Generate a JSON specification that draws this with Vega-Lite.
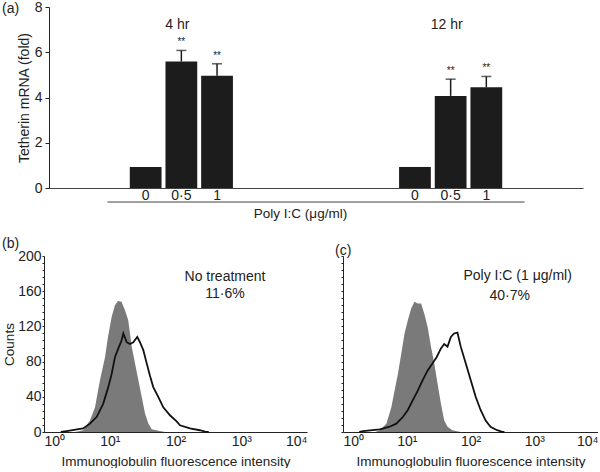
{
  "$schema": "https://vega.github.io/schema/vega-lite/v6.json",
  "padding": {"left": 2, "top": 0, "right": 0, "bottom": 0},
  "background": "white",
  "config": {
    "font": "Liberation Sans",
    "view": {"stroke": null},
    "axis": {"grid": false, "labelFont": "Liberation Sans", "titleFont": "Liberation Sans", "labelFontSize": 14, "titleFontSize": 13.5, "titleFontWeight": "normal", "domainColor": "#222222", "tickColor": "#222222", "labelColor": "#222222", "titleColor": "#222222"},
    "title": {"font": "Liberation Sans", "fontSize": 14, "fontWeight": "normal", "color": "#222222"},
    "text": {"font": "Liberation Sans", "color": "#222222"}
  },
  "datasets": {
    "tetherin": [
      {"time": "4 hr", "dose": "0", "fold": 0.93, "upper": 0.93, "sig": ""},
      {"time": "4 hr", "dose": "0·5", "fold": 5.59, "upper": 6.08, "sig": "**"},
      {"time": "4 hr", "dose": "1", "fold": 4.96, "upper": 5.49, "sig": "**"},
      {"time": "12 hr", "dose": "0", "fold": 0.93, "upper": 0.93, "sig": ""},
      {"time": "12 hr", "dose": "0·5", "fold": 4.07, "upper": 4.81, "sig": "**"},
      {"time": "12 hr", "dose": "1", "fold": 4.45, "upper": 4.93, "sig": "**"}
    ],
    "flow": [
      {"panel": "b", "series": "control", "intensity": 3.0, "count": 0},
      {"panel": "b", "series": "control", "intensity": 3.92, "count": 2},
      {"panel": "b", "series": "control", "intensity": 5.01, "count": 13},
      {"panel": "b", "series": "control", "intensity": 5.97, "count": 28},
      {"panel": "b", "series": "control", "intensity": 7.11, "count": 59},
      {"panel": "b", "series": "control", "intensity": 8.47, "count": 85},
      {"panel": "b", "series": "control", "intensity": 9.4, "count": 108},
      {"panel": "b", "series": "control", "intensity": 10.7, "count": 131},
      {"panel": "b", "series": "control", "intensity": 12.0, "count": 144},
      {"panel": "b", "series": "control", "intensity": 13.3, "count": 149},
      {"panel": "b", "series": "control", "intensity": 15.1, "count": 148},
      {"panel": "b", "series": "control", "intensity": 17.1, "count": 138},
      {"panel": "b", "series": "control", "intensity": 19.1, "count": 127},
      {"panel": "b", "series": "control", "intensity": 21.6, "count": 97},
      {"panel": "b", "series": "control", "intensity": 24.2, "count": 78},
      {"panel": "b", "series": "control", "intensity": 27.2, "count": 59},
      {"panel": "b", "series": "control", "intensity": 30.6, "count": 40},
      {"panel": "b", "series": "control", "intensity": 34.4, "count": 21},
      {"panel": "b", "series": "control", "intensity": 38.5, "count": 10},
      {"panel": "b", "series": "control", "intensity": 43.4, "count": 3},
      {"panel": "b", "series": "control", "intensity": 57.5, "count": 1},
      {"panel": "b", "series": "control", "intensity": 70, "count": 0},
      {"panel": "b", "series": "sample", "intensity": 1.8, "count": 0},
      {"panel": "b", "series": "sample", "intensity": 2.21, "count": 1},
      {"panel": "b", "series": "sample", "intensity": 3.92, "count": 4},
      {"panel": "b", "series": "sample", "intensity": 5.01, "count": 9.5},
      {"panel": "b", "series": "sample", "intensity": 6.31, "count": 17},
      {"panel": "b", "series": "sample", "intensity": 7.94, "count": 32},
      {"panel": "b", "series": "sample", "intensity": 9.51, "count": 51},
      {"panel": "b", "series": "sample", "intensity": 10.7, "count": 66},
      {"panel": "b", "series": "sample", "intensity": 12.0, "count": 85},
      {"panel": "b", "series": "sample", "intensity": 13.5, "count": 95},
      {"panel": "b", "series": "sample", "intensity": 15.1, "count": 104},
      {"panel": "b", "series": "sample", "intensity": 16.1, "count": 112},
      {"panel": "b", "series": "sample", "intensity": 18.1, "count": 102},
      {"panel": "b", "series": "sample", "intensity": 20.3, "count": 100},
      {"panel": "b", "series": "sample", "intensity": 22.8, "count": 102},
      {"panel": "b", "series": "sample", "intensity": 26.2, "count": 108},
      {"panel": "b", "series": "sample", "intensity": 28.8, "count": 102},
      {"panel": "b", "series": "sample", "intensity": 32.4, "count": 93},
      {"panel": "b", "series": "sample", "intensity": 36.5, "count": 78},
      {"panel": "b", "series": "sample", "intensity": 40.9, "count": 64},
      {"panel": "b", "series": "sample", "intensity": 45.9, "count": 51},
      {"panel": "b", "series": "sample", "intensity": 54.7, "count": 40},
      {"panel": "b", "series": "sample", "intensity": 65.2, "count": 28},
      {"panel": "b", "series": "sample", "intensity": 82.4, "count": 19},
      {"panel": "b", "series": "sample", "intensity": 104, "count": 12},
      {"panel": "b", "series": "sample", "intensity": 117, "count": 7.6},
      {"panel": "b", "series": "sample", "intensity": 166, "count": 4},
      {"panel": "b", "series": "sample", "intensity": 234, "count": 2},
      {"panel": "b", "series": "sample", "intensity": 282, "count": 0.5},
      {"panel": "b", "series": "sample", "intensity": 320, "count": 0},
      {"panel": "c", "series": "control", "intensity": 3.2, "count": 0},
      {"panel": "c", "series": "control", "intensity": 3.77, "count": 2},
      {"panel": "c", "series": "control", "intensity": 4.79, "count": 9.5},
      {"panel": "c", "series": "control", "intensity": 5.73, "count": 28},
      {"panel": "c", "series": "control", "intensity": 6.44, "count": 47},
      {"panel": "c", "series": "control", "intensity": 7.26, "count": 66},
      {"panel": "c", "series": "control", "intensity": 8.2, "count": 89},
      {"panel": "c", "series": "control", "intensity": 9.23, "count": 112},
      {"panel": "c", "series": "control", "intensity": 10.4, "count": 127},
      {"panel": "c", "series": "control", "intensity": 11.7, "count": 140},
      {"panel": "c", "series": "control", "intensity": 13.2, "count": 148},
      {"panel": "c", "series": "control", "intensity": 14.9, "count": 146},
      {"panel": "c", "series": "control", "intensity": 16.8, "count": 146},
      {"panel": "c", "series": "control", "intensity": 18.9, "count": 134},
      {"panel": "c", "series": "control", "intensity": 21.3, "count": 119},
      {"panel": "c", "series": "control", "intensity": 24.0, "count": 97},
      {"panel": "c", "series": "control", "intensity": 27.0, "count": 78},
      {"panel": "c", "series": "control", "intensity": 30.4, "count": 55},
      {"panel": "c", "series": "control", "intensity": 34.4, "count": 32},
      {"panel": "c", "series": "control", "intensity": 38.7, "count": 13},
      {"panel": "c", "series": "control", "intensity": 43.6, "count": 6},
      {"panel": "c", "series": "control", "intensity": 52.1, "count": 2},
      {"panel": "c", "series": "control", "intensity": 70, "count": 0},
      {"panel": "c", "series": "sample", "intensity": 1.8, "count": 0},
      {"panel": "c", "series": "sample", "intensity": 2.07, "count": 1},
      {"panel": "c", "series": "sample", "intensity": 3.77, "count": 3},
      {"panel": "c", "series": "sample", "intensity": 5.4, "count": 6},
      {"panel": "c", "series": "sample", "intensity": 6.85, "count": 9.5},
      {"panel": "c", "series": "sample", "intensity": 8.69, "count": 17},
      {"panel": "c", "series": "sample", "intensity": 10.4, "count": 25},
      {"panel": "c", "series": "sample", "intensity": 12.4, "count": 36},
      {"panel": "c", "series": "sample", "intensity": 14.9, "count": 47},
      {"panel": "c", "series": "sample", "intensity": 17.8, "count": 59},
      {"panel": "c", "series": "sample", "intensity": 21.3, "count": 70},
      {"panel": "c", "series": "sample", "intensity": 25.4, "count": 78},
      {"panel": "c", "series": "sample", "intensity": 29.4, "count": 85},
      {"panel": "c", "series": "sample", "intensity": 34.4, "count": 95},
      {"panel": "c", "series": "sample", "intensity": 38.7, "count": 100},
      {"panel": "c", "series": "sample", "intensity": 43.6, "count": 97},
      {"panel": "c", "series": "sample", "intensity": 49.2, "count": 108},
      {"panel": "c", "series": "sample", "intensity": 55.3, "count": 112},
      {"panel": "c", "series": "sample", "intensity": 62.4, "count": 113},
      {"panel": "c", "series": "sample", "intensity": 70.3, "count": 97},
      {"panel": "c", "series": "sample", "intensity": 84.1, "count": 78},
      {"panel": "c", "series": "sample", "intensity": 100.7, "count": 59},
      {"panel": "c", "series": "sample", "intensity": 120.5, "count": 40},
      {"panel": "c", "series": "sample", "intensity": 144, "count": 25},
      {"panel": "c", "series": "sample", "intensity": 173, "count": 13},
      {"panel": "c", "series": "sample", "intensity": 206, "count": 6},
      {"panel": "c", "series": "sample", "intensity": 261, "count": 2},
      {"panel": "c", "series": "sample", "intensity": 309, "count": 0.5},
      {"panel": "c", "series": "sample", "intensity": 340, "count": 0}
    ]
  },
  "vconcat": [
    {
      "width": 539,
      "height": 181,
      "title": {"text": "(a)", "anchor": "start", "frame": "group", "dx": -42, "dy": 20},
      "layer": [
        {
          "data": {"name": "tetherin"},
          "encoding": {
            "x": {"field": "time", "type": "nominal", "sort": ["4 hr", "12 hr"],
                  "scale": {"range": [5, 539], "paddingInner": 0.617, "paddingOuter": 0.3},
                  "axis": {"labels": false, "ticks": false, "domain": true, "domainColor": "#444444", "title": "Poly I:C (μg/ml)", "titlePadding": 18, "titleX": 256}},
            "xOffset": {"field": "dose", "type": "nominal", "sort": ["0", "0·5", "1"], "scale": {"paddingInner": 0.11, "paddingOuter": 0}}
          },
          "layer": [
            {
              "mark": {"type": "bar", "color": "#1c1c1c"},
              "encoding": {
                "y": {"field": "fold", "type": "quantitative", "scale": {"domain": [0, 8], "nice": false},
                      "axis": {"values": [0, 2, 4, 6, 8], "offset": -5, "tickSize": 4, "labelPadding": 3, "title": "Tetherin mRNA (fold)", "titleFontSize": 14, "titlePadding": 3}}
              }
            },
            {
              "transform": [{"filter": "datum.sig != ''"}],
              "mark": {"type": "rule", "color": "#1c1c1c", "strokeWidth": 1.5},
              "encoding": {"y": {"field": "fold", "type": "quantitative"}, "y2": {"field": "upper"}}
            },
            {
              "transform": [{"filter": "datum.sig != ''"}],
              "mark": {"type": "tick", "color": "#1c1c1c", "thickness": 1.5, "size": 10, "orient": "horizontal"},
              "encoding": {"y": {"field": "upper", "type": "quantitative"}}
            },
            {
              "transform": [{"filter": "datum.sig != ''"}],
              "mark": {"type": "text", "fontSize": 10, "baseline": "bottom", "dy": -3, "color": "#222222"},
              "encoding": {"y": {"field": "upper", "type": "quantitative"}, "text": {"field": "sig"}}
            },
            {
              "mark": {"type": "text", "fontSize": 14, "baseline": "middle", "color": "#222222"},
              "encoding": {"y": {"datum": -0.36}, "text": {"field": "dose"}}
            },
            {
              "transform": [{"filter": "datum.dose == '0·5'"}],
              "mark": {"type": "text", "fontSize": 14, "baseline": "middle", "dx": -4, "color": "#222222"},
              "encoding": {"y": {"datum": 7.2}, "text": {"field": "time"}}
            }
          ]
        },
        {
          "data": {"values": [{}]},
          "mark": {"type": "rule", "color": "#444444", "strokeWidth": 1},
          "encoding": {
            "x": {"datum": "4 hr", "type": "nominal", "scale": {"type": "point", "domain": ["4 hr", "12 hr"], "range": [5, 539], "padding": 0.14}, "axis": null},
            "x2": {"datum": "12 hr"},
            "y": {"datum": -0.62, "type": "quantitative"}
          }
        }
      ],
      "resolve": {"scale": {"x": "independent"}}
    },
    {
      "hconcat": [
        {
          "width": 263,
          "height": 176,
          "title": {"text": "(b)", "anchor": "start", "frame": "group", "dx": -42, "dy": 6},
          "layer": [
            {"data": {"name": "flow"}, "transform": [{"filter": "datum.panel == 'b' && datum.series == 'control'"}], "mark": {"type": "area", "color": "#7a7a7a"},
             "encoding": {
               "x": {"field": "intensity", "type": "quantitative", "scale": {"type": "log", "domain": [1, 10000], "nice": false},
                     "axis": {"values": [1, 10, 100, 1000, 10000], "labelExpr": "datum.value == 1 ? '10⁰' : datum.value == 10 ? '10¹' : datum.value == 100 ? '10²' : datum.value == 1000 ? '10³' : '10⁴'", "labelFlush": true, "ticks": false, "labelPadding": 2, "title": "Immunoglobulin fluorescence intensity", "titlePadding": 6}},
               "y": {"field": "count", "type": "quantitative", "scale": {"domain": [0, 200], "nice": false},
                     "axis": {"values": [0, 8, 16, 24, 32, 40, 48, 56, 64, 72, 80, 88, 96, 104, 112, 120, 128, 136, 144, 152, 160, 168, 176, 184, 192, 200], "labelExpr": "datum.value % 40 == 0 ? datum.label : ''", "tickSize": 2, "labelPadding": 1, "title": "Counts", "titlePadding": 1}}
             }},
            {"data": {"name": "flow"}, "transform": [{"filter": "datum.panel == 'b' && datum.series == 'sample'"}], "mark": {"type": "line", "color": "#111111", "strokeWidth": 1.8},
             "encoding": {
               "x": {"field": "intensity", "type": "quantitative", "scale": {"type": "log", "domain": [1, 10000], "nice": false},
                     "axis": {"values": [1, 10, 100, 1000, 10000], "labelExpr": "datum.value == 1 ? '10⁰' : datum.value == 10 ? '10¹' : datum.value == 100 ? '10²' : datum.value == 1000 ? '10³' : '10⁴'", "labelFlush": true, "ticks": false, "labelPadding": 2, "title": "Immunoglobulin fluorescence intensity", "titlePadding": 6}},
               "y": {"field": "count", "type": "quantitative", "scale": {"domain": [0, 200], "nice": false},
                     "axis": {"values": [0, 8, 16, 24, 32, 40, 48, 56, 64, 72, 80, 88, 96, 104, 112, 120, 128, 136, 144, 152, 160, 168, 176, 184, 192, 200], "labelExpr": "datum.value % 40 == 0 ? datum.label : ''", "tickSize": 2, "labelPadding": 1, "title": "Counts", "titlePadding": 1}}
             }},
            {"data": {"values": [{"note": "No treatment", "pct": "11·6%"}]},
             "mark": {"type": "text", "fontSize": 14, "color": "#222222", "lineHeight": 19, "baseline": "top"},
             "encoding": {
               "x": {"datum": 566, "type": "quantitative", "scale": {"type": "log", "domain": [1, 10000], "nice": false},
                     "axis": {"values": [1, 10, 100, 1000, 10000], "labelExpr": "datum.value == 1 ? '10⁰' : datum.value == 10 ? '10¹' : datum.value == 100 ? '10²' : datum.value == 1000 ? '10³' : '10⁴'", "labelFlush": true, "ticks": false, "labelPadding": 2, "title": "Immunoglobulin fluorescence intensity", "titlePadding": 6}},
               "y": {"datum": 184, "type": "quantitative", "scale": {"domain": [0, 200], "nice": false},
                     "axis": {"values": [0, 8, 16, 24, 32, 40, 48, 56, 64, 72, 80, 88, 96, 104, 112, 120, 128, 136, 144, 152, 160, 168, 176, 184, 192, 200], "labelExpr": "datum.value % 40 == 0 ? datum.label : ''", "tickSize": 2, "labelPadding": 1, "title": "Counts", "titlePadding": 1}},
               "text": {"field": "note"}
             }},
            {"data": {"values": [{"note": "No treatment", "pct": "11·6%"}]},
             "mark": {"type": "text", "fontSize": 14, "color": "#222222", "baseline": "top"},
             "encoding": {
               "x": {"datum": 566, "type": "quantitative", "scale": {"type": "log", "domain": [1, 10000], "nice": false},
                     "axis": {"values": [1, 10, 100, 1000, 10000], "labelExpr": "datum.value == 1 ? '10⁰' : datum.value == 10 ? '10¹' : datum.value == 100 ? '10²' : datum.value == 1000 ? '10³' : '10⁴'", "labelFlush": true, "ticks": false, "labelPadding": 2, "title": "Immunoglobulin fluorescence intensity", "titlePadding": 6}},
               "y": {"datum": 165, "type": "quantitative", "scale": {"domain": [0, 200], "nice": false},
                     "axis": {"values": [0, 8, 16, 24, 32, 40, 48, 56, 64, 72, 80, 88, 96, 104, 112, 120, 128, 136, 144, 152, 160, 168, 176, 184, 192, 200], "labelExpr": "datum.value % 40 == 0 ? datum.label : ''", "tickSize": 2, "labelPadding": 1, "title": "Counts", "titlePadding": 1}},
               "text": {"field": "pct"}
             }}
          ]
        },
        {
          "width": 255,
          "height": 176,
          "title": {"text": "(c)", "anchor": "start", "frame": "group", "dx": -8, "dy": 6},
          "layer": [
            {"data": {"name": "flow"}, "transform": [{"filter": "datum.panel == 'c' && datum.series == 'control'"}], "mark": {"type": "area", "color": "#7a7a7a"},
             "encoding": {
               "x": {"field": "intensity", "type": "quantitative", "scale": {"type": "log", "domain": [1, 10000], "nice": false},
                     "axis": {"values": [1, 10, 100, 1000, 10000], "labelExpr": "datum.value == 1 ? '10⁰' : datum.value == 10 ? '10¹' : datum.value == 100 ? '10²' : datum.value == 1000 ? '10³' : '10⁴'", "labelFlush": true, "ticks": false, "labelPadding": 2, "title": "Immunoglobulin fluorescence intensity", "titlePadding": 6}},
               "y": {"field": "count", "type": "quantitative", "scale": {"domain": [0, 200], "nice": false},
                     "axis": {"values": [0, 8, 16, 24, 32, 40, 48, 56, 64, 72, 80, 88, 96, 104, 112, 120, 128, 136, 144, 152, 160, 168, 176, 184, 192, 200], "labels": false, "tickSize": 2, "title": null}}
             }},
            {"data": {"name": "flow"}, "transform": [{"filter": "datum.panel == 'c' && datum.series == 'sample'"}], "mark": {"type": "line", "color": "#111111", "strokeWidth": 1.8},
             "encoding": {
               "x": {"field": "intensity", "type": "quantitative", "scale": {"type": "log", "domain": [1, 10000], "nice": false},
                     "axis": {"values": [1, 10, 100, 1000, 10000], "labelExpr": "datum.value == 1 ? '10⁰' : datum.value == 10 ? '10¹' : datum.value == 100 ? '10²' : datum.value == 1000 ? '10³' : '10⁴'", "labelFlush": true, "ticks": false, "labelPadding": 2, "title": "Immunoglobulin fluorescence intensity", "titlePadding": 6}},
               "y": {"field": "count", "type": "quantitative", "scale": {"domain": [0, 200], "nice": false},
                     "axis": {"values": [0, 8, 16, 24, 32, 40, 48, 56, 64, 72, 80, 88, 96, 104, 112, 120, 128, 136, 144, 152, 160, 168, 176, 184, 192, 200], "labels": false, "tickSize": 2, "title": null}}
             }},
            {"data": {"values": [{"note": "Poly I:C (1 μg/ml)", "pct": "40·7%"}]},
             "mark": {"type": "text", "fontSize": 14, "color": "#222222", "baseline": "top"},
             "encoding": {
               "x": {"datum": 548, "type": "quantitative", "scale": {"type": "log", "domain": [1, 10000], "nice": false},
                     "axis": {"values": [1, 10, 100, 1000, 10000], "labelExpr": "datum.value == 1 ? '10⁰' : datum.value == 10 ? '10¹' : datum.value == 100 ? '10²' : datum.value == 1000 ? '10³' : '10⁴'", "labelFlush": true, "ticks": false, "labelPadding": 2, "title": "Immunoglobulin fluorescence intensity", "titlePadding": 6}},
               "y": {"datum": 185, "type": "quantitative", "scale": {"domain": [0, 200], "nice": false},
                     "axis": {"values": [0, 8, 16, 24, 32, 40, 48, 56, 64, 72, 80, 88, 96, 104, 112, 120, 128, 136, 144, 152, 160, 168, 176, 184, 192, 200], "labels": false, "tickSize": 2, "title": null}},
               "text": {"field": "note"}
             }},
            {"data": {"values": [{"note": "Poly I:C (1 μg/ml)", "pct": "40·7%"}]},
             "mark": {"type": "text", "fontSize": 14, "color": "#222222", "baseline": "top"},
             "encoding": {
               "x": {"datum": 412, "type": "quantitative", "scale": {"type": "log", "domain": [1, 10000], "nice": false},
                     "axis": {"values": [1, 10, 100, 1000, 10000], "labelExpr": "datum.value == 1 ? '10⁰' : datum.value == 10 ? '10¹' : datum.value == 100 ? '10²' : datum.value == 1000 ? '10³' : '10⁴'", "labelFlush": true, "ticks": false, "labelPadding": 2, "title": "Immunoglobulin fluorescence intensity", "titlePadding": 6}},
               "y": {"datum": 162, "type": "quantitative", "scale": {"domain": [0, 200], "nice": false},
                     "axis": {"values": [0, 8, 16, 24, 32, 40, 48, 56, 64, 72, 80, 88, 96, 104, 112, 120, 128, 136, 144, 152, 160, 168, 176, 184, 192, 200], "labels": false, "tickSize": 2, "title": null}},
               "text": {"field": "pct"}
             }}
          ]
        }
      ],
      "spacing": 28
    }
  ],
  "spacing": 17
}
